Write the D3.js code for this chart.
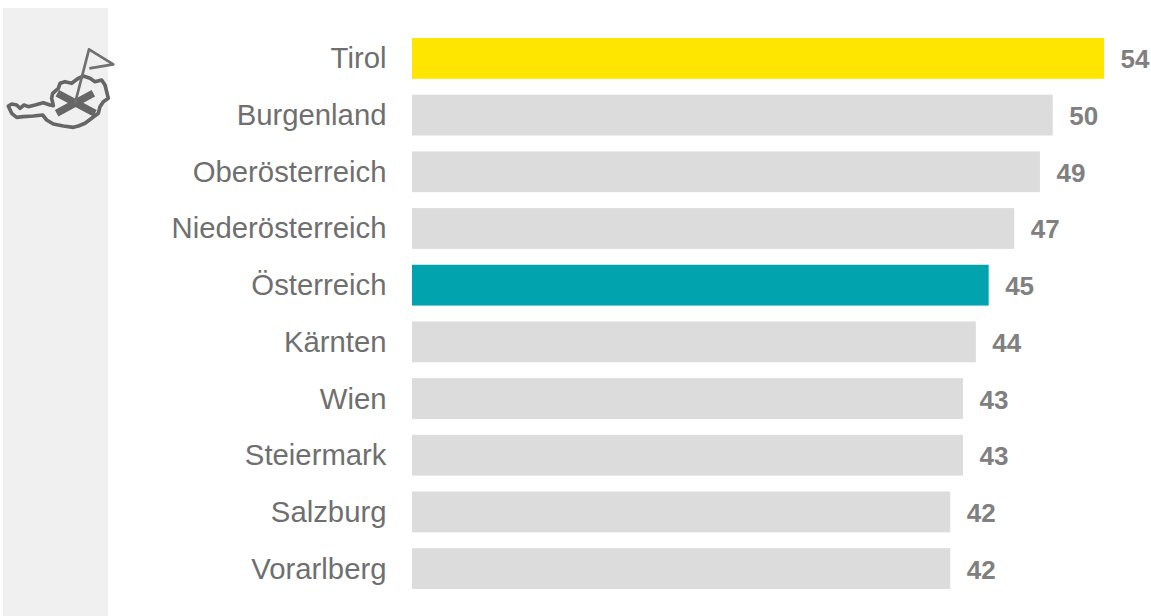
<!DOCTYPE html>
<html>
<head>
<meta charset="utf-8">
<script src="https://cdn.jsdelivr.net/npm/d3@7"></script>
<style>
  html, body { margin: 0; padding: 0; background: #fff; }
  svg { display: block; }
  text { font-family: "Liberation Sans", Arial, sans-serif; opacity: 0.999; }
</style>
</head>
<body>
<div id="container"></div>
<script>
/* CONSTANTS AND GLOBALS */
const width = 1151,
  height = 616,
  margin = { top: 38, bottom: 27, left: 412, right: 47 }

const colors = { bar: '#dcdcdc', highlight: '#ffe600', total: '#00a3ae', label: '#6f6f6f', value: '#808080', icon: '#666666', strip: '#f0f0f0' }

/* DATA */
const regions = ['Tirol', 'Burgenland', 'Oberösterreich', 'Niederösterreich', 'Österreich', 'Kärnten', 'Wien', 'Steiermark', 'Salzburg', 'Vorarlberg']
const values = [54, 50, 49, 47, 45, 44, 43, 43, 42, 42]
const barColors = [colors.highlight, colors.bar, colors.bar, colors.bar, colors.total, colors.bar, colors.bar, colors.bar, colors.bar, colors.bar]

/* SCALES */
const xScale = d3.scaleLinear()
  .domain([0, 54])
  .range([margin.left, width - margin.right])

const yScale = d3.scaleBand()
  .domain(regions)
  .range([margin.top, height - margin.bottom])
  .paddingInner(0.28)
  .paddingOuter(0)

/* HTML ELEMENTS */
const svg = d3.select('#container')
  .append('svg')
  .attr('width', width)
  .attr('height', height)

// grey strip behind the icon
svg.append('rect')
  .attr('x', 3)
  .attr('y', 8)
  .attr('width', 105)
  .attr('height', 608)
  .attr('fill', colors.strip)

// bars
svg.selectAll('.bar')
  .data(regions)
  .join('rect')
  .attr('class', 'bar')
  .attr('x', xScale(0))
  .attr('y', d => yScale(d))
  .attr('width', (d, i) => xScale(values[i]) - xScale(0))
  .attr('height', yScale.bandwidth())
  .attr('fill', (d, i) => barColors[i])

// region labels
svg.selectAll('.region-label')
  .data(regions)
  .join('text')
  .attr('class', 'region-label')
  .attr('x', xScale(0) - 25.5)
  .attr('y', d => yScale(d) + yScale.bandwidth() / 2 + 10)
  .attr('text-anchor', 'end')
  .attr('font-size', 29.3)
  .attr('fill', colors.label)
  .text(d => d)

// value labels
svg.selectAll('.value-label')
  .data(regions)
  .join('text')
  .attr('class', 'value-label')
  .attr('x', (d, i) => xScale(values[i]) + 16.5)
  .attr('y', d => yScale(d) + yScale.bandwidth() / 2 + 10)
  .attr('font-size', 26)
  .attr('font-weight', 'bold')
  .attr('fill', colors.value)
  .text((d, i) => values[i])

// icon: map of Austria with crossed tools and a flag
const icon = svg.append('g')
  .attr('transform', 'scale(0.3333)')
  .attr('fill', 'none')
  .attr('stroke', colors.icon)
  .attr('stroke-linejoin', 'round')

icon.append('path')
  .attr('stroke-width', 11)
  .attr('d', 'M25,318L35,312L50,315L60,325L72,315L85,320L105,315L130,308L150,315L160,317L155,295L158,280L175,265L180,250L195,245L215,250L235,235L250,228L270,235L285,245L305,240L315,255L320,275L325,295L310,305L300,320L295,340L275,355L255,370L235,378L220,382L190,378L160,372L140,360L128,345L100,348L70,350L50,352L35,340L28,325Z')

icon.append('path')
  .attr('stroke-width', 22)
  .attr('d', 'M172,280L285,340M280,280L170,340')

icon.append('path')
  .attr('stroke-width', 8)
  .attr('stroke', '#707070')
  .attr('d', 'M225,310L267,148L340,193L268,205')
</script>
</body>
</html>
